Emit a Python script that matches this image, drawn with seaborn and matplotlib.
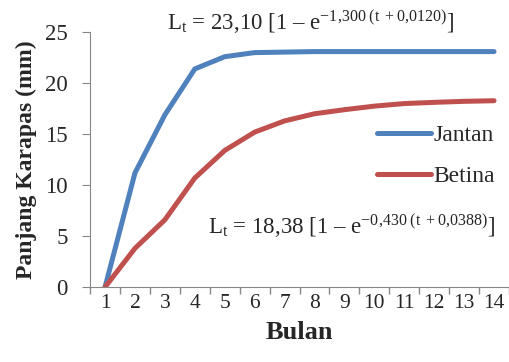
import pandas as pd
import seaborn as sns
import matplotlib.pyplot as plt

bulan = list(range(1, 15))
jantan = [0, 11.2, 16.9, 21.4, 22.6, 23.0, 23.05, 23.1, 23.1, 23.1, 23.1, 23.1, 23.1, 23.1]
betina = [0, 3.8, 6.6, 10.7, 13.4, 15.2, 16.3, 17.0, 17.4, 17.75, 18.0, 18.12, 18.22, 18.28]

df = pd.DataFrame({"Bulan": bulan * 2,
                   "Panjang": jantan + betina,
                   "Jenis": ["Jantan"] * 14 + ["Betina"] * 14})

sns.set_style("ticks")
plt.rcParams["font.family"] = ["Liberation Serif", "DejaVu Serif"]
plt.rcParams["mathtext.fontset"] = "custom"
plt.rcParams["mathtext.rm"] = "Liberation Serif"
plt.rcParams["mathtext.it"] = "Liberation Serif:italic"

fig = plt.figure(figsize=(5.09, 3.62), dpi=100)
ax = fig.add_axes([0.177, 0.207, 0.823, 0.704])

sns.lineplot(data=df, x="Bulan", y="Panjang", hue="Jenis",
             palette={"Jantan": "#4F81BD", "Betina": "#C0504D"},
             linewidth=3.6, ax=ax, legend=True)
for ln in ax.lines:
    ln.set_solid_capstyle("round")
    ln.set_solid_joinstyle("round")

ax.set_xlim(0.5, 14.5)
ax.set_ylim(0, 25)
ax.set_xticks(bulan)
ax.set_xticks([b + 0.5 for b in range(0, 15)], minor=True)
ax.tick_params(axis="x", which="major", length=0, labelsize=15.5, pad=5)
ax.tick_params(axis="x", which="minor", length=5, color="#888888", width=1)
ax.tick_params(axis="y", length=6, color="#888888", labelsize=16.5, pad=10)
ax.set_yticks([0, 5, 10, 15, 20, 25])
sns.despine(ax=ax)
ax.spines["left"].set_color("#888888")
ax.spines["bottom"].set_color("#888888")

ax.set_xlabel("Bulan", fontsize=19, fontweight="bold", labelpad=6)
ax.set_ylabel("Panjang Karapas (mm)", fontsize=17, fontweight="bold", labelpad=6)

ax.legend(loc="center left", bbox_to_anchor=(0.685, 0.515), frameon=False,
          fontsize=17, handlelength=2.3, handletextpad=0.1, labelspacing=0.85,
          borderaxespad=0, borderpad=0)

fig.text(0.61, 0.94, r"L$_\mathrm{t}$ = 23,10 [1 – e$^{\mathrm{-1{,}300\ (t\ +0{,}0120)}}$]",
         fontsize=16.5, ha="center", va="center")
fig.text(0.69, 0.375, r"L$_\mathrm{t}$ = 18,38 [1 – e$^{\mathrm{-0{,}430\ (t\ +0{,}0388)}}$]",
         fontsize=16.5, ha="center", va="center")

fig.savefig("out.png", dpi=100)
